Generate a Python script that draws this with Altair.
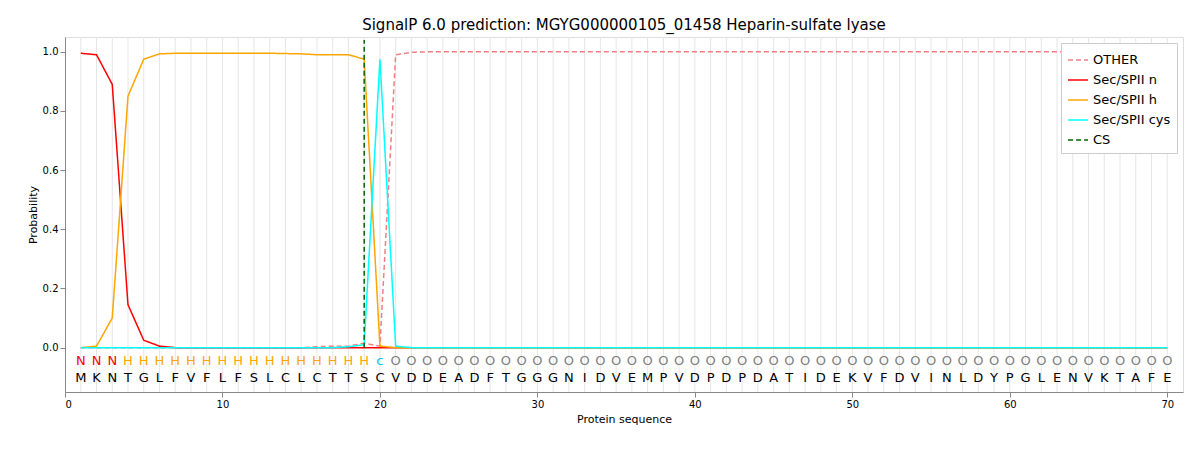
import altair as alt
import pandas as pd

seq = list("MKNTGLFVFLFSLCLCTTSCVDDEADFTGGGNIDVEMPVDPDPDATIDEKVFDVINLDYPGLENVKTAFE")
labels = ["N"] * 3 + ["H"] * 16 + ["c"] + ["O"] * 50
pos = list(range(1, 71))

sp_n = [0.995, 0.99, 0.89, 0.145, 0.025, 0.005] + [0.0] * 64
sp_h = [0.0, 0.005, 0.10, 0.85, 0.975, 0.993, 0.995, 0.995, 0.995, 0.995, 0.995, 0.995,
        0.995, 0.994, 0.993, 0.99, 0.99, 0.99, 0.975, 0.005] + [0.0] * 50
sp_cys = [0.0] * 17 + [0.003, 0.01, 0.975, 0.005] + [0.0] * 49
other = [0.0] * 15 + [0.003, 0.005, 0.005, 0.015, 0.005, 0.99, 0.998] + [1.0] * 48

names = ["OTHER", "Sec/SPII n", "Sec/SPII h", "Sec/SPII cys", "CS"]
colors = ["#f08080", "#ff0000", "#ffa500", "#00ffff", "#006400"]
dashes = [[5, 3], [1, 0], [1, 0], [1, 0], [5, 3]]

rows = []
for name, vals in zip(names[:4], [other, sp_n, sp_h, sp_cys]):
    for p, v in zip(pos, vals):
        rows.append({"pos": p, "prob": v, "series": name})
rows += [{"pos": 19, "prob": 0.0, "series": "CS"}, {"pos": 19, "prob": 1.04, "series": "CS"}]
df = pd.DataFrame(rows)

lab_colors = {"N": "#ff0000", "H": "#ffa500", "c": "#00bfff", "O": "#808080"}
ann = pd.DataFrame({"pos": pos, "aa": seq, "lab": labels,
                    "lc": [lab_colors[l] for l in labels]})

xs = alt.Scale(domain=[0, 71], nice=False)
ys = alt.Scale(domain=[-0.15, 1.05], nice=False)

grid = alt.Chart(pd.DataFrame({"pos": pos})).mark_rule(color="#e6e6e6", strokeWidth=1).encode(
    x=alt.X("pos:Q", scale=xs)
)

lines = alt.Chart(df).mark_line(strokeWidth=1.5).encode(
    x=alt.X("pos:Q", scale=xs, title="Protein sequence",
            axis=alt.Axis(values=[0, 10, 20, 30, 40, 50, 60, 70], grid=False,
                          titleFontWeight="normal")),
    y=alt.Y("prob:Q", scale=ys, title="Probability",
            axis=alt.Axis(values=[0, 0.2, 0.4, 0.6, 0.8, 1.0], format=".1f", grid=False,
                          titleFontWeight="normal")),
    color=alt.Color("series:N", scale=alt.Scale(domain=names, range=colors), sort=names,
                    legend=alt.Legend(title=None, orient="top-right", symbolType="stroke",
                                      strokeColor="#cccccc", fillColor="white", padding=6,
                                      labelFontSize=13, symbolSize=400, offset=6)),
    strokeDash=alt.StrokeDash("series:N", scale=alt.Scale(domain=names, range=dashes),
                              sort=names, legend=None),
    detail="series:N",
)

labtext = alt.Chart(ann).mark_text(fontSize=13, baseline="middle").encode(
    x=alt.X("pos:Q", scale=xs), y=alt.value(324), text="lab:N",
    color=alt.Color("lc:N", scale=None),
)
aatext = alt.Chart(ann).mark_text(fontSize=13, baseline="middle", color="black").encode(
    x=alt.X("pos:Q", scale=xs), y=alt.value(341), text="aa:N",
)

chart = (grid + lines + labtext + aatext).properties(
    width=1118, height=355,
    padding={"left": 19, "top": 9, "right": 5, "bottom": 5},
    title=alt.Title("SignalP 6.0 prediction: MGYG000000105_01458 Heparin-sulfate lyase",
                    fontSize=15, fontWeight="normal"),
).configure_view(stroke="black").configure_axis(
    domainColor="black", tickColor="black", labelFontSize=12, titleFontSize=13,
    labelColor="black", titleColor="black"
).configure(font="DejaVu Sans")

chart.save("out.html", embed_options={"renderer": "svg", "actions": False})
